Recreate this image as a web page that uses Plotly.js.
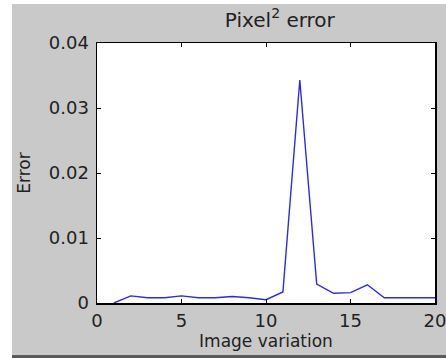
<!DOCTYPE html>
<html>
<head>
<meta charset="utf-8">
<script src="https://cdn.plot.ly/plotly-3.0.1.min.js"></script>
<style>
  html, body { margin: 0; padding: 0; background: #ffffff; width: 446px; height: 358px; overflow: hidden; }
  #chart { position: absolute; left: 12px; top: 4px; width: 434px; height: 351px; }
  #bottomline { position: absolute; left: 12px; top: 355px; width: 434px; height: 3px; background: #5a5a5a; }
</style>
</head>
<body>
<div id="chart"></div>
<div id="bottomline"></div>
<script>
const imageVariation = [1, 2, 3, 4, 5, 6, 7, 8, 9, 10, 11, 12, 13, 14, 15, 16, 17, 18, 19, 20];
const pixelError = [0, 0.0011, 0.0008, 0.0008, 0.0011, 0.0008, 0.0008, 0.0010, 0.0008, 0.0005, 0.0017, 0.0343, 0.0029, 0.0015, 0.0016, 0.0028, 0.0008, 0.0008, 0.0008, 0.0008];
const xTicks = [0, 5, 10, 15, 20];
const yTicks = [0, 0.01, 0.02, 0.03, 0.04];
const yTickLabels = ['0', '0.01', '0.02', '0.03', '0.04'];

const fontFam = 'DejaVu Sans, Liberation Sans, Arial, sans-serif';
const txtColor = '#222222';

const trace = {
  x: imageVariation,
  y: pixelError,
  type: 'scatter',
  mode: 'lines',
  line: { color: 'rgb(45,45,210)', width: 1.4 },
  hoverinfo: 'skip'
};

const layout = {
  width: 434,
  height: 351,
  margin: { l: 85, r: 11, t: 39, b: 52 },
  paper_bgcolor: '#c9c9c9',
  plot_bgcolor: '#ffffff',
  showlegend: false,
  font: { family: fontFam, size: 17, color: txtColor },
  title: {
    text: 'Pixel<sup>2</sup> error',
    font: { family: fontFam, size: 20, color: txtColor },
    x: 0.541, xref: 'paper', xanchor: 'center',
    y: 0.955, yref: 'container', yanchor: 'middle'
  },
  xaxis: {
    range: [0, 20],
    tickvals: xTicks,
    ticktext: xTicks.map(String),
    ticks: 'inside', ticklen: 4, tickcolor: '#000000', tickwidth: 1,
    showline: true, linecolor: '#000000', linewidth: 1.5, mirror: 'ticks',
    showgrid: false, zeroline: false,
    tickfont: { family: fontFam, size: 18, color: txtColor },
    ticklabelstandoff: 1,
    ticklabeloverflow: 'allow',
    title: { text: 'Image variation', font: { family: fontFam, size: 17, color: txtColor }, standoff: 0 }
  },
  yaxis: {
    range: [0, 0.04],
    tickvals: yTicks,
    ticktext: yTickLabels,
    ticks: 'inside', ticklen: 4, tickcolor: '#000000', tickwidth: 1,
    showline: true, linecolor: '#000000', linewidth: 1.5, mirror: 'ticks',
    showgrid: false, zeroline: false,
    tickfont: { family: fontFam, size: 18, color: txtColor },
    ticklabelstandoff: 3,
    title: { text: 'Error', font: { family: fontFam, size: 17, color: txtColor }, standoff: 14 }
  }
};

Plotly.newPlot('chart', [trace], layout, { staticPlot: true, displayModeBar: false });
</script>
</body>
</html>
